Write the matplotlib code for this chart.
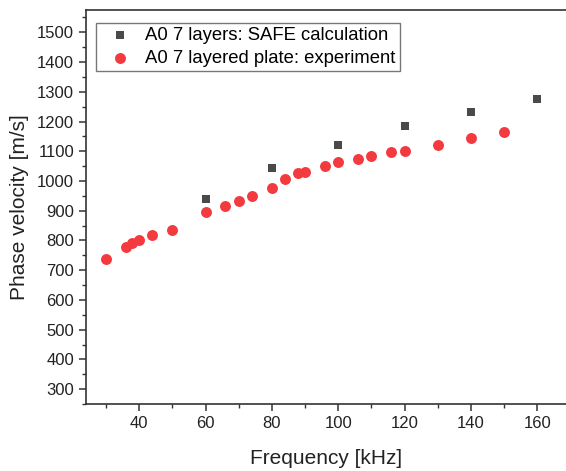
import numpy as np
import matplotlib.pyplot as plt

plt.rcParams['font.family'] = ['Liberation Sans', 'DejaVu Sans']

# A0 mode, SAFE calculation
f_safe = [60, 80, 100, 120, 140, 160]
v_safe = [940, 1042, 1121, 1184, 1233, 1275]

# A0 mode, experiment
f_exp = [30, 36, 38, 40, 44, 50, 60, 66, 70, 74, 80, 84, 88, 90, 96, 100,
         106, 110, 116, 120, 130, 140, 150]
v_exp = [737, 778, 793, 801, 818, 834, 895, 915, 934, 950, 976, 1007, 1027,
         1031, 1051, 1063, 1075, 1085, 1096, 1102, 1122, 1143, 1165]

fig = plt.figure(figsize=(5.66, 4.71), dpi=100)
ax = fig.add_axes([86/566, 67/471, 1 - 86/566, 394/471])

ax.scatter(f_safe, v_safe, marker='s', s=30, color='#4a4a4a', linewidths=0,
           label='A0 7 layers: SAFE calculation', zorder=3)
ax.scatter(f_exp, v_exp, marker='o', s=62, color='#f23a3f', linewidths=0,
           label='A0 7 layered plate: experiment', zorder=3)

ax.set_xlim(24, 168.6)
ax.set_ylim(254, 1575)
ax.set_xticks(range(40, 161, 20))
ax.set_xticks(range(30, 161, 20), minor=True)
ax.set_yticks(range(300, 1501, 100))
ax.set_yticks(range(250, 1551, 50), minor=True)

ax.spines['right'].set_visible(False)
for s in ['left', 'bottom', 'top']:
    ax.spines[s].set_linewidth(1.2)
    ax.spines[s].set_color('#333333')
ax.tick_params(which='major', direction='out', length=5, width=1.1,
               colors='#333333', labelsize=12, labelcolor='#222222')
ax.tick_params(which='minor', direction='out', length=3, width=1.0,
               colors='#333333')

ax.set_xlabel('Frequency [kHz]', fontsize=15, color='#222222', labelpad=13)
ax.set_ylabel('Phase velocity [m/s]', fontsize=15, color='#222222', labelpad=6)

leg = ax.legend(loc='upper left', bbox_to_anchor=(0.021, 0.967), fontsize=13.3,
                frameon=True, fancybox=False, edgecolor='#555555',
                borderaxespad=0, handletextpad=0.34, borderpad=0.22,
                labelspacing=0.3, handlelength=2.1)
leg.get_frame().set_linewidth(1.0)

fig.savefig('out.png', dpi=100)
